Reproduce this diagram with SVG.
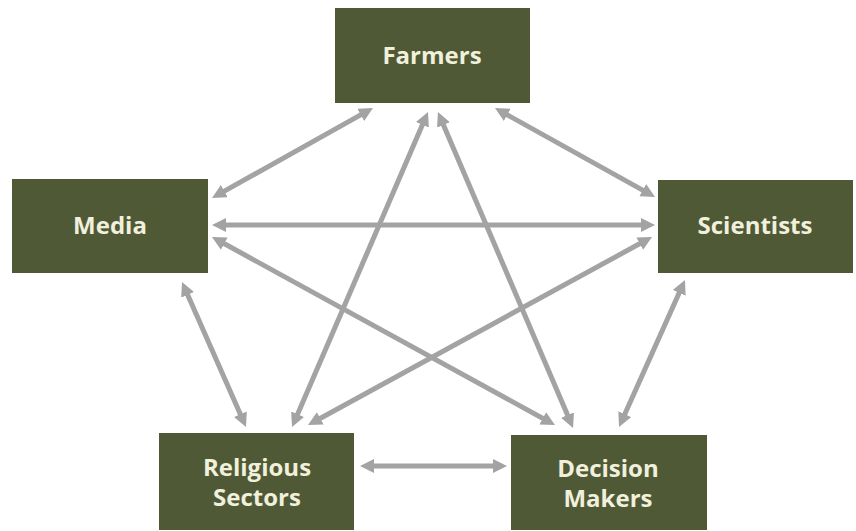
<svg xmlns="http://www.w3.org/2000/svg" width="856" height="531" viewBox="0 0 856 531">
<style>
.box{fill:#4f5936;}
.lbl{font-family:"Open Sans","Liberation Sans",sans-serif;font-weight:700;font-size:24px;fill:#f1f0dc;text-anchor:middle;}
.con{stroke:#a3a3a3;stroke-width:5;fill:none;marker-start:url(#ah);marker-end:url(#ah);}
</style>
<defs>
<marker id="ah" markerUnits="userSpaceOnUse" markerWidth="16" markerHeight="16" refX="6" refY="7" orient="auto-start-reverse" viewBox="0 0 16 16">
<path d="M0,0 L14,7 L0,14 z" fill="#a3a3a3"/>
</marker>
</defs>
<rect width="856" height="531" fill="#ffffff"/>
<g id="connectors">
<line class="con" x1="366.0" y1="111.9" x2="219.0" y2="194.1"/>
<line class="con" x1="502.0" y1="111.9" x2="648.0" y2="193.1"/>
<line class="con" x1="424.8" y1="119.3" x2="295.2" y2="419.7"/>
<line class="con" x1="441.1" y1="119.4" x2="569.9" y2="420.6"/>
<line class="con" x1="220" y1="225" x2="647" y2="225"/>
<line class="con" x1="219.0" y1="240.8" x2="548.0" y2="421.2"/>
<line class="con" x1="645.0" y1="240.8" x2="315.0" y2="421.2"/>
<line class="con" x1="185.2" y1="289.3" x2="242.8" y2="419.7"/>
<line class="con" x1="681.7" y1="287.3" x2="622.3" y2="419.7"/>
<line class="con" x1="368" y1="466" x2="499" y2="466"/>
</g>
<g id="farmers">
<rect class="box" x="335" y="8" width="195" height="95"/>
<text class="lbl" x="432" y="64">Farmers</text>
</g>
<g id="media">
<rect class="box" x="12" y="179" width="196" height="94"/>
<text class="lbl" x="110" y="234">Media</text>
</g>
<g id="scientists">
<rect class="box" x="658" y="180" width="195" height="93"/>
<text class="lbl" x="755" y="234">Scientists</text>
</g>
<g id="religious-sectors">
<rect class="box" x="159" y="433" width="195" height="97"/>
<text class="lbl" x="257" y="476">Religious</text>
<text class="lbl" x="257" y="506">Sectors</text>
</g>
<g id="decision-makers">
<rect class="box" x="511" y="435" width="196" height="95"/>
<text class="lbl" x="608" y="477">Decision</text>
<text class="lbl" x="608" y="507">Makers</text>
</g>
</svg>
